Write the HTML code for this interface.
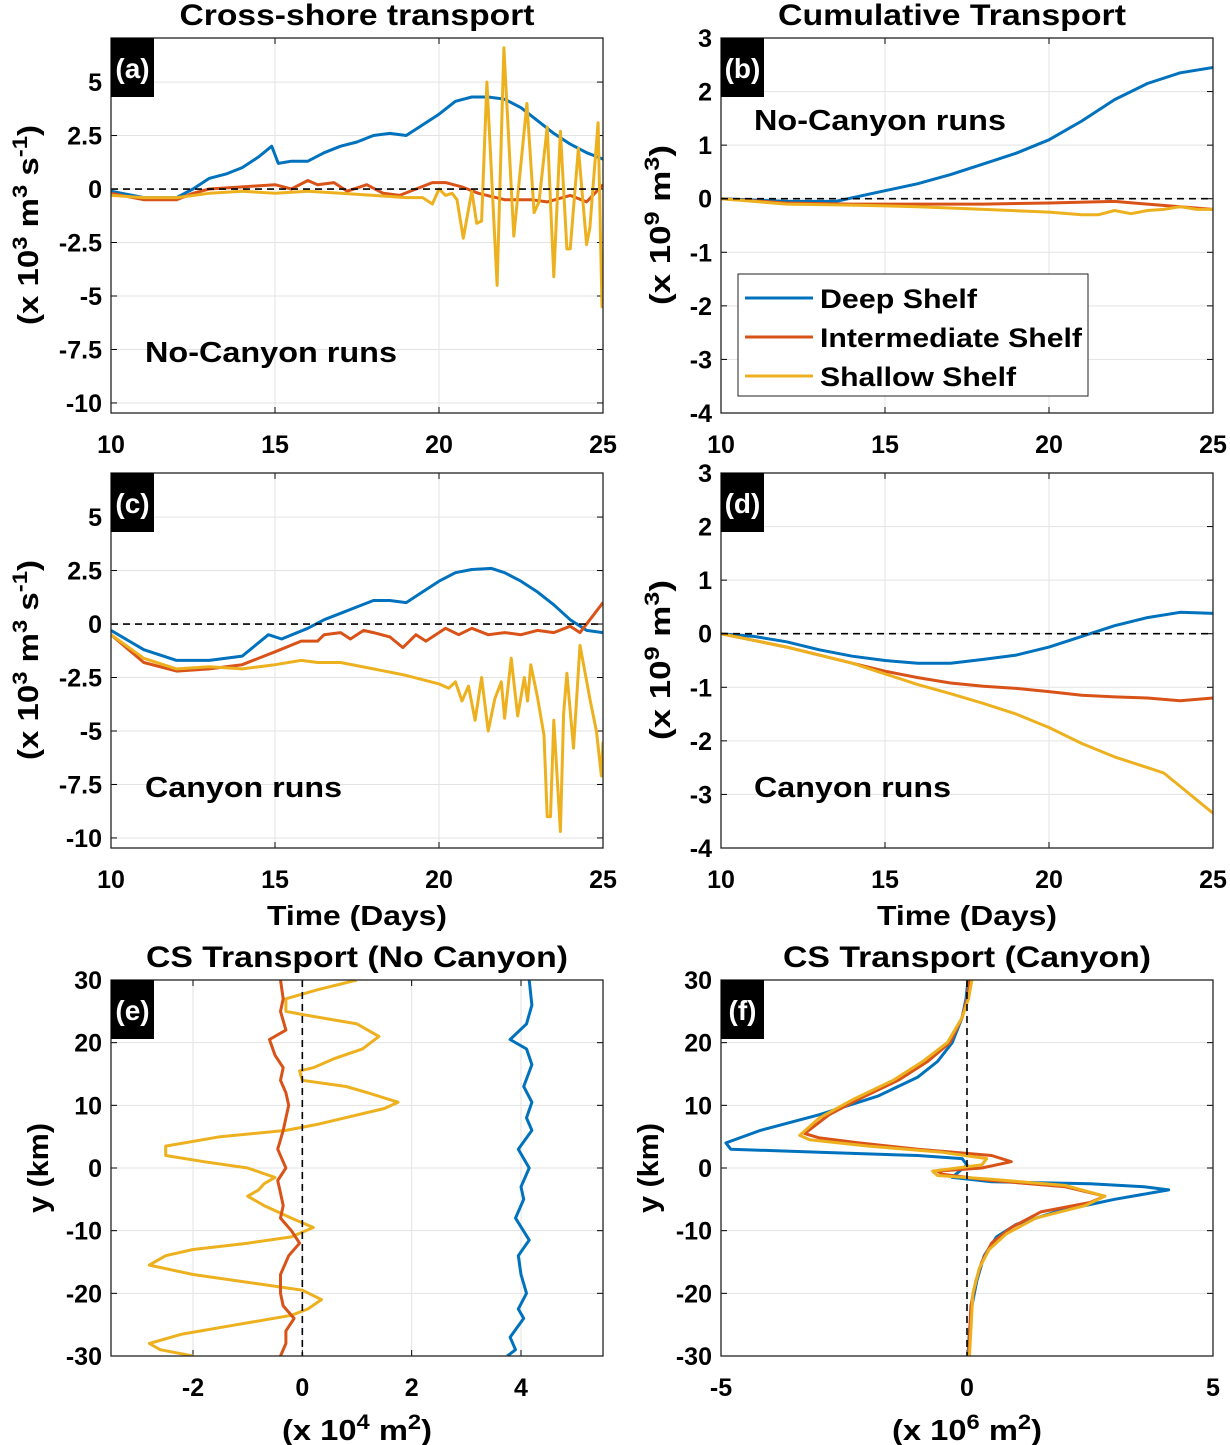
<!DOCTYPE html>
<html><head><meta charset="utf-8"><style>
html,body{margin:0;padding:0;background:#fff}
svg{display:block}
text{font-family:"Liberation Sans",Arial,sans-serif;font-weight:bold;fill:#000}
</style></head><body>
<svg id="s" xmlns="http://www.w3.org/2000/svg" width="1230" height="1445" viewBox="0 0 1230 1445"></svg>
<script>
const S=document.getElementById('s');let H='';
const B='#0072BD',R='#D95319',Y='#EDB120';
const panels={
a:{x0:111,x1:603,y0:38,y1:413,xm:10,xM:25,ym:-10.47,yM:7.06,xt:[10,15,20,25],yt:[[5,'5'],[2.5,'2.5'],[0,'0'],[-2.5,'-2.5'],[-5,'-5'],[-7.5,'-7.5'],[-10,'-10']],h0:1},
b:{x0:721,x1:1213,y0:38,y1:413,xm:10,xM:25,ym:-4,yM:3,xt:[10,15,20,25],yt:[3,2,1,0,-1,-2,-3,-4].map(v=>[v,''+v]),h0:1},
c:{x0:111,x1:603,y0:473,y1:848,xm:10,xM:25,ym:-10.47,yM:7.06,xt:[10,15,20,25],yt:[[5,'5'],[2.5,'2.5'],[0,'0'],[-2.5,'-2.5'],[-5,'-5'],[-7.5,'-7.5'],[-10,'-10']],h0:1},
d:{x0:721,x1:1213,y0:473,y1:848,xm:10,xM:25,ym:-4,yM:3,xt:[10,15,20,25],yt:[3,2,1,0,-1,-2,-3,-4].map(v=>[v,''+v]),h0:1},
e:{x0:111,x1:603,y0:980,y1:1356,xm:-3.5,xM:5.5,ym:-30,yM:30,xt:[-2,0,2,4],yt:[30,20,10,0,-10,-20,-30].map(v=>[v,''+v]),v0:1},
f:{x0:721,x1:1213,y0:980,y1:1356,xm:-5,xM:5,ym:-30,yM:30,xt:[-5,0,5],yt:[30,20,10,0,-10,-20,-30].map(v=>[v,''+v]),v0:1}
};
function X(p,v){return p.x0+(v-p.xm)/(p.xM-p.xm)*(p.x1-p.x0)}
function Yv(p,v){return p.y1-(v-p.ym)/(p.yM-p.ym)*(p.y1-p.y0)}
function line(p,pts,col){H+=`<polyline clip-path="url(#c${p.id})" fill="none" stroke="${col}" stroke-width="3" stroke-linejoin="round" points="${pts.map(q=>X(p,q[0]).toFixed(1)+','+Yv(p,q[1]).toFixed(1)).join(' ')}"/>`}
for(const k in panels){const p=panels[k];p.id=k;
H+=`<clipPath id="c${k}"><rect x="${p.x0}" y="${p.y0}" width="${p.x1-p.x0}" height="${p.y1-p.y0}"/></clipPath>`;
for(const t of p.xt){const x=X(p,t);H+=`<line x1="${x}" x2="${x}" y1="${p.y0}" y2="${p.y1}" stroke="#e3e3e3" stroke-width="1"/><line x1="${x}" x2="${x}" y1="${p.y1}" y2="${p.y1-6}" stroke="#000"/><line x1="${x}" x2="${x}" y1="${p.y0}" y2="${p.y0+6}" stroke="#000"/><text x="${x}" y="${p.y1+40}" font-size="25" text-anchor="middle">${t}</text>`}
for(const [v,l] of p.yt){const y=Yv(p,v);H+=`<line x1="${p.x0}" x2="${p.x1}" y1="${y}" y2="${y}" stroke="#e3e3e3" stroke-width="1"/><line x1="${p.x0}" x2="${p.x0+6}" y1="${y}" y2="${y}" stroke="#000"/><line x1="${p.x1}" x2="${p.x1-6}" y1="${y}" y2="${y}" stroke="#000"/><text x="${p.x0-9}" y="${y+9}" font-size="25" text-anchor="end">${l}</text>`}
}
const a=panels.a,b=panels.b,c=panels.c,d=panels.d,e=panels.e,f=panels.f;
line(a,[[10,-0.1],[11,-0.4],[12,-0.4],[12.5,0],[13,0.5],[13.5,0.7],[14,1.0],[14.5,1.5],[14.9,2.0],[15.1,1.2],[15.5,1.3],[16,1.3],[16.5,1.7],[17,2.0],[17.5,2.2],[18,2.5],[18.5,2.6],[19,2.5],[19.5,3.0],[20,3.5],[20.5,4.1],[21,4.3],[21.5,4.3],[22,4.2],[22.5,3.8],[23,3.2],[23.5,2.6],[24,2.1],[24.5,1.7],[25,1.4]],B);
line(a,[[10,-0.2],[11,-0.5],[12,-0.5],[12.5,-0.2],[13,0],[14,0.1],[15,0.2],[15.5,0],[16,0.4],[16.3,0.2],[16.8,0.3],[17.2,-0.1],[17.8,0.2],[18.3,-0.2],[18.8,-0.3],[19.3,0],[19.8,0.3],[20.2,0.3],[20.7,0.1],[21.2,-0.2],[22,-0.5],[22.8,-0.5],[23.3,-0.6],[24,-0.3],[24.5,-0.6],[25,0.2]],R);
line(a,[[10,-0.3],[11,-0.4],[12,-0.4],[13,-0.2],[14,-0.1],[15,-0.2],[16,-0.1],[17,-0.2],[18,-0.3],[19,-0.4],[19.5,-0.4],[19.8,-0.7],[20,0],[20.2,-0.3],[20.4,-0.2],[20.55,-0.5],[20.74,-2.3],[21.0,-0.1],[21.15,-1.6],[21.3,-1.5],[21.46,5.0],[21.77,-4.5],[21.98,6.6],[22.28,-2.2],[22.68,4.0],[22.9,-1.1],[23.05,-0.6],[23.3,2.9],[23.5,-4.1],[23.7,2.7],[23.9,-2.8],[24.0,-2.8],[24.25,1.9],[24.5,-2.6],[24.6,-1.8],[24.7,0.2],[24.85,3.1],[24.97,-5.5],[25,-3.9]],Y);
line(b,[[10,0],[12,-0.05],[13.5,-0.05],[15,0.15],[16,0.28],[17,0.45],[18,0.65],[19,0.85],[20,1.1],[21,1.45],[22,1.85],[23,2.15],[24,2.35],[25,2.45]],B);
line(b,[[10,0],[12,-0.08],[14,-0.1],[16,-0.1],[18,-0.1],[20,-0.08],[22,-0.05],[23,-0.1],[24,-0.15],[25,-0.2]],R);
line(b,[[10,0],[12,-0.1],[14,-0.12],[16,-0.15],[18,-0.2],[20,-0.25],[21,-0.3],[21.5,-0.3],[22,-0.22],[22.5,-0.28],[23,-0.22],[23.5,-0.2],[24,-0.15],[24.5,-0.2],[25,-0.2]],Y);
line(c,[[10,-0.3],[11,-1.2],[12,-1.7],[13,-1.7],[14,-1.5],[14.8,-0.5],[15.2,-0.7],[16,-0.2],[16.5,0.2],[17,0.5],[17.5,0.8],[18,1.1],[18.5,1.1],[19,1.0],[19.5,1.5],[20,2.0],[20.5,2.4],[21,2.55],[21.6,2.6],[22,2.4],[22.5,2.0],[23,1.5],[23.5,0.9],[24,0.2],[24.5,-0.3],[25,-0.4]],B);
line(c,[[10,-0.5],[11,-1.8],[12,-2.2],[13,-2.1],[14,-1.9],[15,-1.3],[15.8,-0.8],[16.3,-0.8],[16.5,-0.5],[17,-0.4],[17.3,-0.7],[17.7,-0.3],[18,-0.4],[18.5,-0.6],[18.9,-1.1],[19.3,-0.5],[19.6,-0.8],[20.2,-0.2],[20.6,-0.5],[21,-0.2],[21.5,-0.5],[22,-0.4],[22.5,-0.5],[23,-0.3],[23.5,-0.4],[24,-0.1],[24.3,-0.4],[24.6,0.2],[24.9,0.8],[25,1.0]],R);
line(c,[[10,-0.5],[11,-1.6],[12,-2.1],[13,-2.0],[14,-2.1],[15,-1.9],[15.8,-1.7],[16.3,-1.8],[17,-1.8],[18,-2.1],[19,-2.4],[20,-2.8],[20.3,-3.0],[20.5,-2.7],[20.7,-3.6],[20.9,-2.9],[21.1,-4.5],[21.3,-2.5],[21.5,-5.0],[21.7,-3.5],[21.9,-2.7],[22.0,-4.4],[22.2,-1.6],[22.4,-4.3],[22.6,-2.5],[22.7,-3.6],[22.8,-1.9],[23.0,-3.4],[23.2,-5.2],[23.3,-9.0],[23.4,-9.0],[23.5,-4.5],[23.7,-9.7],[23.8,-4.2],[23.9,-2.3],[24.1,-5.8],[24.3,-1.0],[24.6,-3.5],[24.8,-5.0],[24.95,-7.1],[25,-5.5]],Y);
line(d,[[10,0],[11,-0.05],[12,-0.15],[13,-0.3],[14,-0.42],[15,-0.5],[16,-0.55],[17,-0.55],[18,-0.48],[19,-0.4],[20,-0.25],[21,-0.05],[22,0.15],[23,0.3],[24,0.4],[25,0.38]],B);
line(d,[[10,0],[12,-0.25],[14,-0.55],[15,-0.7],[16,-0.82],[17,-0.92],[18,-0.98],[19,-1.02],[20,-1.08],[21,-1.15],[22,-1.18],[23,-1.2],[24,-1.25],[25,-1.2]],R);
line(d,[[10,0],[12,-0.25],[14,-0.55],[15,-0.75],[16,-0.95],[17,-1.12],[18,-1.3],[19,-1.5],[20,-1.75],[21,-2.05],[22,-2.3],[23,-2.5],[23.5,-2.6],[24,-2.85],[24.5,-3.1],[25,-3.35]],Y);
line(e,[[1.0,30],[0.3,28.5],[-0.3,27],[-0.3,25],[0,24.5],[1,23],[1.4,21],[1.1,19],[0.6,17.5],[0.2,16],[-0.05,15.5],[0,14],[0.8,13],[1.2,12],[1.75,10.5],[1.5,9.5],[0.3,7],[-0.3,6],[-1.5,5],[-2.5,3.5],[-2.5,2],[-1.8,1],[-1.0,0],[-0.5,-1.5],[-0.7,-2.5],[-0.8,-3.5],[-1.0,-4.5],[-0.7,-6],[-0.2,-8],[0.2,-9.5],[-0.2,-11],[-1,-12],[-2,-13],[-2.5,-14],[-2.8,-15.5],[-2,-17],[-0.8,-18.5],[0,-19.5],[0.35,-21],[0.1,-22.5],[-0.2,-23.5],[-1.2,-25],[-2.2,-26.5],[-2.8,-28],[-2.6,-29],[-2.0,-30]],Y);
line(e,[[-0.4,30],[-0.35,27],[-0.4,25],[-0.3,22],[-0.6,20.5],[-0.5,18],[-0.35,16],[-0.4,14],[-0.3,12],[-0.25,10],[-0.3,8],[-0.35,6],[-0.45,3],[-0.3,0],[-0.45,-2],[-0.4,-4],[-0.35,-6],[-0.4,-8],[-0.2,-10],[-0.05,-12],[-0.25,-14],[-0.4,-17],[-0.4,-20],[-0.35,-22],[-0.15,-24],[-0.3,-26],[-0.3,-28],[-0.4,-30]],R);
line(e,[[4.15,30],[4.2,26],[4.1,23],[3.8,20.5],[4.1,19],[4.2,16.5],[4.05,13],[4.2,10.5],[4.1,8],[4.2,6],[3.95,3],[4.15,0],[4.0,-3],[4.05,-5],[3.9,-8],[4.15,-11.5],[3.95,-14],[4.0,-17],[4.1,-20],[3.95,-22.5],[4.05,-24],[3.8,-27],[3.9,-29],[3.75,-30]],B);
line(f,[[0.02,30],[-0.02,27],[-0.1,24],[-0.3,20],[-0.6,17],[-1.0,14.5],[-1.8,11.5],[-3.0,8.5],[-4.2,6],[-4.9,4],[-4.8,3],[-3,2.5],[-1,2],[-0.1,1.5],[0,0.5],[-0.3,-1.5],[0.5,-2.2],[2.5,-2.5],[3.6,-3],[4.1,-3.5],[3.0,-5],[1.8,-7],[1.0,-9],[0.6,-11],[0.35,-14],[0.2,-18],[0.1,-22],[0.05,-26],[0.02,-30]],B);
line(f,[[0.05,30],[0,27],[-0.1,24],[-0.35,20],[-0.8,17],[-1.4,14],[-2.2,11],[-2.8,8.5],[-3.3,5.5],[-3.0,4.8],[-2.2,4],[-1.0,3],[0.5,2],[0.9,1],[0.3,0],[-0.6,-0.5],[-0.5,-1],[0.5,-2],[2.0,-3],[2.8,-4.5],[2.5,-5.5],[1.5,-7],[0.9,-9.5],[0.5,-12],[0.3,-15],[0.18,-18],[0.08,-22],[0.03,-30]],R);
line(f,[[0.1,30],[0.03,27],[-0.1,24],[-0.4,20],[-0.9,17],[-1.5,14],[-2.3,11],[-3.0,8],[-3.4,5.2],[-3.2,4.5],[-2.0,3.5],[-0.5,2.5],[0.4,1.5],[0.3,0.5],[-0.7,-0.5],[-0.6,-1.2],[0.5,-1.8],[2.0,-2.8],[2.8,-4.5],[2.4,-6],[1.4,-8],[0.8,-10.5],[0.45,-13],[0.25,-16],[0.12,-20],[0.05,-30]],Y);
for(const k in panels){const p=panels[k];
 if(p.h0){const y=Yv(p,0);H+=`<line x1="${p.x0}" x2="${p.x1}" y1="${y}" y2="${y}" stroke="#000" stroke-width="1.6" stroke-dasharray="7,5"/>`}
 if(p.v0){const x=X(p,0);H+=`<line x1="${x}" x2="${x}" y1="${p.y0}" y2="${p.y1}" stroke="#000" stroke-width="1.6" stroke-dasharray="7,5"/>`}
 H+=`<rect x="${p.x0}" y="${p.y0}" width="${p.x1-p.x0}" height="${p.y1-p.y0}" fill="none" stroke="#222" stroke-width="1.3"/>`;
 H+=`<rect x="${p.x0}" y="${p.y0}" width="43" height="59" fill="#000"/><text x="${p.x0+21.5}" y="${p.y0+40}" font-size="28" text-anchor="middle" style="fill:#fff">(${k})</text>`;
}
function T(x,y,s,t,len){H+=`<text x="${x}" y="${y}" font-size="${s}" text-anchor="middle" ${len?`textLength="${len}" lengthAdjust="spacingAndGlyphs"`:''}>${t}</text>`}
T(357,25,30,'Cross-shore transport',355);
T(952,25,30,'Cumulative Transport',348);
T(357,967,30,'CS Transport (No Canyon)',422);
T(967,967,30,'CS Transport (Canyon)',368);
T(357,925,28,'Time (Days)',180);T(967,925,28,'Time (Days)',180);
const sup='baseline-shift="super" font-size="21"';
H+=`<text x="357" y="1440" font-size="29" text-anchor="middle" textLength="150" lengthAdjust="spacingAndGlyphs">(x 10<tspan ${sup}>4</tspan> m<tspan ${sup}>2</tspan>)</text>`;
H+=`<text x="967" y="1440" font-size="29" text-anchor="middle" textLength="150" lengthAdjust="spacingAndGlyphs">(x 10<tspan ${sup}>6</tspan> m<tspan ${sup}>2</tspan>)</text>`;
function yl(x,y,inner,len){H+=`<text transform="translate(${x},${y}) rotate(-90)" font-size="29" text-anchor="middle" ${len?`textLength="${len}" lengthAdjust="spacingAndGlyphs"`:''}>${inner}</text>`}
const q=`(x 10<tspan ${sup}>3</tspan> m<tspan ${sup}>3</tspan> s<tspan ${sup}>-1</tspan>)`;
const r=`(x 10<tspan ${sup}>9</tspan> m<tspan ${sup}>3</tspan>)`;
yl(38,225,q,200);yl(38,660,q,200);yl(670,225,r,160);yl(670,660,r,160);
yl(48,1168,'y (km)',90);yl(658,1168,'y (km)',90);
H+=`<text x="145" y="362" font-size="29" textLength="252" lengthAdjust="spacingAndGlyphs">No-Canyon runs</text>`;
H+=`<text x="754" y="130" font-size="29" textLength="252" lengthAdjust="spacingAndGlyphs">No-Canyon runs</text>`;
H+=`<text x="145" y="797" font-size="29" textLength="197" lengthAdjust="spacingAndGlyphs">Canyon runs</text>`;
H+=`<text x="754" y="797" font-size="29" textLength="197" lengthAdjust="spacingAndGlyphs">Canyon runs</text>`;
H+=`<rect x="738" y="274" width="350" height="122" fill="#fff" stroke="#222" stroke-width="1"/>`;
[[B,'Deep Shelf',298,157],[R,'Intermediate Shelf',337,262],[Y,'Shallow Shelf',376,196]].forEach(([col,t,y,w])=>{H+=`<line x1="745" x2="813" y1="${y}" y2="${y}" stroke="${col}" stroke-width="3"/><text x="820" y="${y+10}" font-size="27" textLength="${w}" lengthAdjust="spacingAndGlyphs">${t}</text>`});
S.innerHTML=H;
</script>
</body></html>
